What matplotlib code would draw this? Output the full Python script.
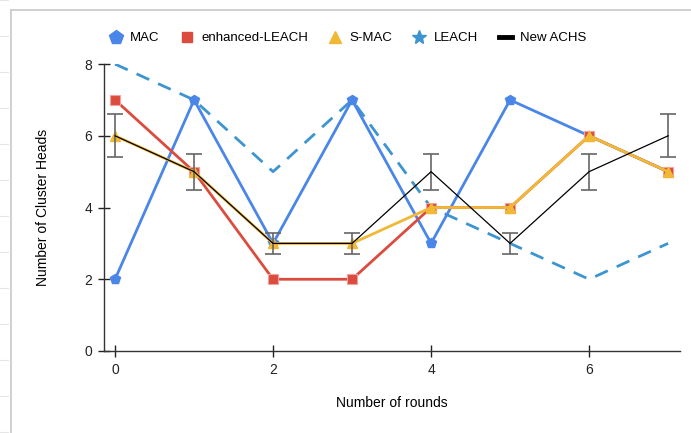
import matplotlib
matplotlib.use('Agg')
import matplotlib.pyplot as plt
from matplotlib.lines import Line2D

plt.rcParams['font.family'] = 'Liberation Sans'
plt.rcParams['font.size'] = 10

rounds = [0, 1, 2, 3, 4, 5, 6, 7]
mac = [2, 7, 3, 7, 3, 7, 6, 5]
enhanced_leach = [7, 5, 2, 2, 4, 4, 6, 5]
s_mac = [6, 5, 3, 3, 4, 4, 6, 5]
leach = [8, 7, 5, 7, 4, 3, 2, 3]
new_achs = [6, 5, 3, 3, 5, 3, 5, 6]
achs_err = [0.6, 0.5, 0.3, 0.3, 0.5, 0.3, 0.5, 0.6]

c_mac = '#4A86E8'
c_eleach = '#DB4C3F'
c_smac = '#F1B836'
c_leach = '#3C95D0'

fig = plt.figure(figsize=(6.91, 4.33), dpi=100)
ax = fig.add_axes([0.1505, 0.1894, 0.8335, 0.6626])

# spreadsheet frame behind the chart
fig.add_artist(Line2D([0.016, 0.016], [0, 0.977], color='#c8c8c8', lw=1.2))
fig.add_artist(Line2D([0.016, 1.0], [0.977, 0.977], color='#c8c8c8', lw=1.2))
for yy in range(0, 433, 36):
    fig.add_artist(Line2D([0.0, 0.012], [1 - yy / 433] * 2, color='#e6e6e6', lw=0.8))

ax.plot(rounds, leach, color=c_leach, lw=2, dashes=(5, 3.5), zorder=2)
ax.plot(rounds, mac, color=c_mac, lw=2, marker='p', ms=7.5, zorder=3)
ax.plot(rounds, enhanced_leach, color=c_eleach, lw=2, marker='s', ms=7,
        mec='#F2A0A0', mew=0.8, zorder=4)
ax.plot(rounds, s_mac, color=c_smac, lw=2, marker='^', ms=6.5, zorder=5)
ax.errorbar(rounds, new_achs, yerr=achs_err, color='black', lw=0.9,
            ecolor='#666666', elinewidth=1.2, capsize=6, capthick=1.2, zorder=6)

ax.set_xlim(-0.14, 7.15)
ax.set_ylim(0, 8)
ax.set_xticks([0, 2, 4, 6])
ax.set_yticks([0, 2, 4, 6, 8])
ax.tick_params(direction='inout', length=9, width=1, colors='#222222', labelsize=10, pad=4)
for s in ['top', 'right']:
    ax.spines[s].set_visible(False)
for s in ['left', 'bottom']:
    ax.spines[s].set_color('#333333')
    ax.spines[s].set_linewidth(1)
ax.set_xlabel('Number of rounds', fontsize=10, labelpad=14)
ax.set_ylabel('Number of Cluster Heads', fontsize=10, labelpad=25)

handles = [
    Line2D([], [], ls='none', marker='p', color=c_mac, ms=10),
    Line2D([], [], ls='none', marker='s', color=c_eleach, ms=7),
    Line2D([], [], ls='none', marker='^', color=c_smac, ms=8),
    Line2D([], [], ls='none', marker='*', color=c_leach, ms=10),
    Line2D([], [], color='black', lw=3.5),
]
labels = ['MAC', 'enhanced-LEACH', 'S-MAC', 'LEACH', 'New ACHS']
fig.legend(handles, labels, loc='center', bbox_to_anchor=(0.503, 0.912), ncol=5,
           frameon=False, fontsize=9.5, handlelength=1.0, handletextpad=0.6,
           columnspacing=1.55)

fig.savefig('out.png', dpi=100)
